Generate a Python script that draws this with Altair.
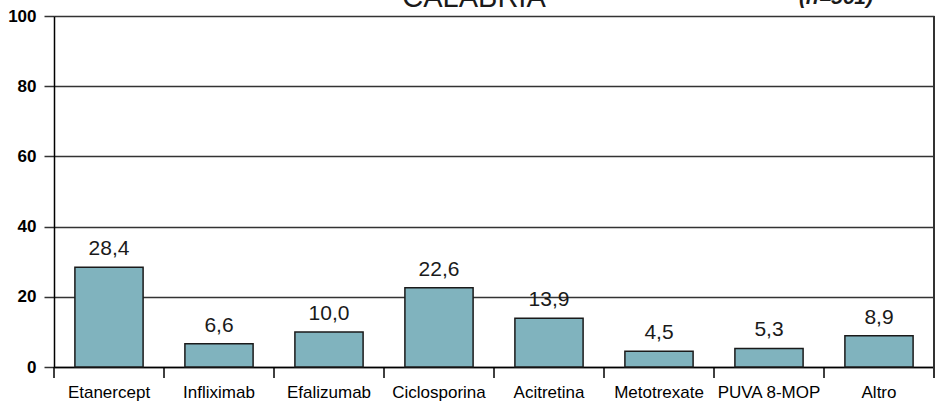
import altair as alt
import pandas as pd

categories = ["Etanercept", "Infliximab", "Efalizumab", "Ciclosporina",
              "Acitretina", "Metotrexate", "PUVA 8-MOP", "Altro"]
values = [28.4, 6.6, 10.0, 22.6, 13.9, 4.5, 5.3, 8.9]
labels = ["28,4", "6,6", "10,0", "22,6", "13,9", "4,5", "5,3", "8,9"]
y_ticks = [0, 20, 40, 60, 80, 100]
title_text = "CALABRIA"
n_text = "(n=561)"

df = pd.DataFrame({"cat": categories, "val": values, "lab": labels})

W, H = 880, 351
FONT = "Liberation Sans"
DARK = "#333333"

xscale = alt.Scale(domain=categories, paddingInner=0, paddingOuter=0)
yscale = alt.Scale(domain=[0, 100], nice=False)

base = alt.Chart(df)

bars = base.mark_bar(
    width=alt.RelativeBandSize(0.62), color="#80b3be",
    stroke="#1a1a1a", strokeWidth=1.5
).encode(
    x=alt.X("cat:N", scale=xscale, sort=categories,
            axis=alt.Axis(title=None, ticks=False, labelAngle=0, labelFontSize=17,
                          labelFont=FONT, labelColor="black", labelPadding=17,
                          domainColor="black", domainWidth=1.5, grid=False)),
    y=alt.Y("val:Q", scale=yscale,
            axis=alt.Axis(title=None, values=y_ticks, tickSize=10, tickColor=DARK,
                          tickWidth=1.5, labelFont=FONT, labelFontSize=17,
                          labelFontWeight="bold", labelColor="black", labelPadding=8,
                          domainColor="black", domainWidth=1.5,
                          grid=True, gridColor=DARK, gridWidth=1.5, gridOpacity=1)),
)

text = base.mark_text(baseline="alphabetic", dy=-12, fontSize=21, font=FONT,
                      color="#1a1a1a").encode(
    x=alt.X("cat:N", scale=xscale, sort=categories),
    y=alt.Y("val:Q", scale=yscale),
    text="lab:N",
)

sep = base.mark_rule(color="black", strokeWidth=1.5).encode(
    x=alt.X("cat:N", scale=xscale, sort=categories, bandPosition=0),
    y=alt.value(H),
    y2=alt.value(H + 11),
)

right = base.mark_rule(color=DARK, strokeWidth=1.5).encode(
    x=alt.value(W), y=alt.value(0), y2=alt.value(H + 11)
)

title_df = pd.DataFrame({"t": [title_text]})
title = alt.Chart(title_df).mark_text(
    fontSize=29, font=FONT, color="#1a1a1a", baseline="alphabetic", align="center"
).encode(x=alt.value(420), y=alt.value(-9), text="t:N")

n_df = pd.DataFrame({"t": [n_text]})
ntext = alt.Chart(n_df).mark_text(
    fontSize=21, font=FONT, fontWeight="bold", fontStyle="italic", color="#1a1a1a",
    baseline="alphabetic", align="right"
).encode(x=alt.value(819), y=alt.value(-12), text="t:N")

chart = alt.layer(bars, text, sep, right, title, ntext).properties(
    width=W, height=H,
    autosize=alt.AutoSizeParams(type="none"),
    padding={"left": 54, "top": 16, "right": 4, "bottom": 39},
).configure_view(stroke=None).configure(background="white")

chart.save("out.html", embed_options={"renderer": "svg", "actions": False})
